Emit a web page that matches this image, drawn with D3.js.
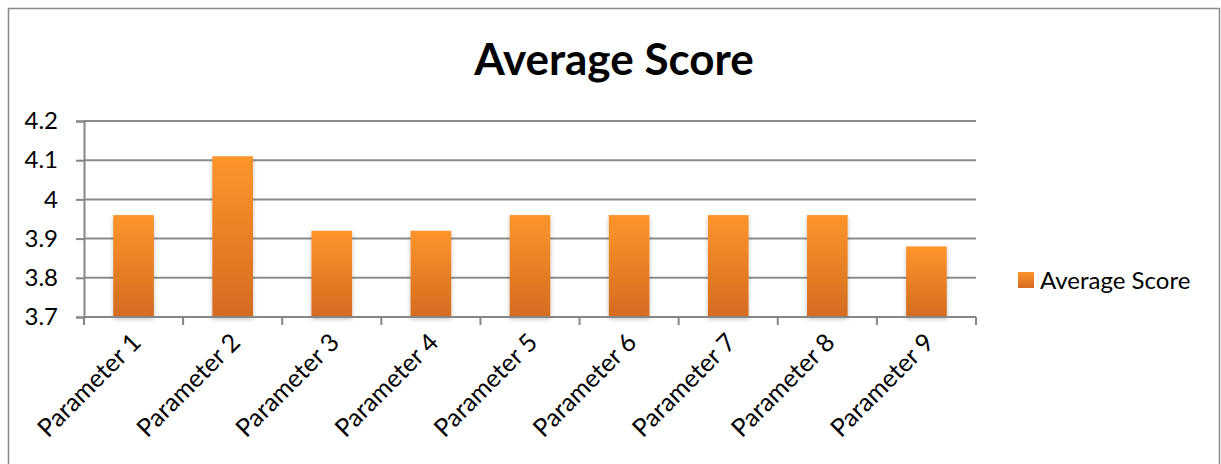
<!DOCTYPE html>
<html><head><meta charset="utf-8">
<script src="https://cdn.jsdelivr.net/npm/d3@7"></script>
<style>body{margin:0;background:#fff}svg{display:block}text{font-family:Lato,"Open Sans",sans-serif}</style>
</head><body>
<svg id="c" width="1221" height="464"></svg>
<script>
const categories = ["Parameter 1","Parameter 2","Parameter 3","Parameter 4","Parameter 5","Parameter 6","Parameter 7","Parameter 8","Parameter 9"];
const values = [3.96, 4.11, 3.92, 3.92, 3.96, 3.96, 3.96, 3.96, 3.88];
const yTicks = [3.7, 3.8, 3.9, 4.0, 4.1, 4.2];
const seriesName = "Average Score";
const title = "Average Score";

(function(){
const svg = d3.select("#c");
const defs = svg.append("defs");
const g1 = defs.append("linearGradient").attr("id","bar").attr("x1",0).attr("y1",0).attr("x2",0).attr("y2",1);
g1.append("stop").attr("offset","0%").attr("stop-color","#fd952c");
g1.append("stop").attr("offset","100%").attr("stop-color","#d36b1f");
const f = defs.append("filter").attr("id","sh").attr("x","-20%").attr("y","-10%").attr("width","140%").attr("height","130%");
f.append("feDropShadow").attr("dx",0).attr("dy",2).attr("stdDeviation",2).attr("flood-color","#000").attr("flood-opacity",0.25);

// outer frame
svg.append("rect").attr("x",8.5).attr("y",8.5).attr("width",1211).attr("height",470)
  .attr("fill","none").attr("stroke","#8a8a8a").attr("stroke-width",1.5);

const pl = 84, pr = 976, pt = 121, pb = 317;
const x = d3.scaleBand().domain(categories).range([pl, pr]).paddingInner(0.59).paddingOuter(0.295);
const y = d3.scaleLinear().domain([3.7, 4.2]).range([pb, pt]);

// gridlines
svg.append("g").selectAll("line").data(yTicks.slice(1)).join("line")
  .attr("x1",pl).attr("x2",pr).attr("y1",d=>y(d)).attr("y2",d=>y(d))
  .attr("stroke","#8c8c8c").attr("stroke-width",2);

// y axis
const ya = svg.append("g").attr("transform",`translate(${pl},0)`)
  .call(d3.axisLeft(y).tickValues(yTicks).tickSize(8).tickPadding(18).tickFormat(d=>String(+d.toFixed(1))));
ya.select(".domain").attr("stroke","#868686").attr("stroke-width",2);
ya.selectAll(".tick line").attr("stroke","#868686").attr("stroke-width",2);
ya.selectAll(".tick text").attr("font-size",24).attr("fill","#000").attr("font-family","Lato");

// bars
svg.append("g").selectAll("rect").data(values).join("rect")
  .attr("x",(d,i)=>x(categories[i])).attr("width",x.bandwidth())
  .attr("y",d=>y(d)).attr("height",d=>pb-y(d))
  .attr("fill","url(#bar)").attr("filter","url(#sh)");

// x axis
const step = (pr-pl)/categories.length;
const xa = svg.append("g").attr("transform",`translate(0,${pb})`);
xa.append("line").attr("x1",pl).attr("x2",pr).attr("stroke","#868686").attr("stroke-width",2);
xa.selectAll("line.t").data(d3.range(categories.length+1)).join("line").attr("class","t")
  .attr("x1",i=>pl+i*step).attr("x2",i=>pl+i*step).attr("y1",0).attr("y2",8)
  .attr("stroke","#868686").attr("stroke-width",2);
xa.selectAll("text").data(categories).join("text")
  .attr("transform",d=>`translate(${x(d)+x.bandwidth()/2+9},${27}) rotate(-45)`)
  .attr("text-anchor","end").attr("font-size",25).attr("fill","#000").text(d=>d);

// title
svg.append("text").attr("x",614).attr("y",75).attr("text-anchor","middle")
  .attr("font-size",44).attr("font-weight","bold").attr("fill","#000").text(title);

// legend
svg.append("rect").attr("x",1018).attr("y",272).attr("width",16).attr("height",16).attr("fill","url(#bar)");
svg.append("text").attr("x",1040).attr("y",289).attr("font-size",24).attr("fill","#000").text(seriesName);
})();
</script>
</body></html>
